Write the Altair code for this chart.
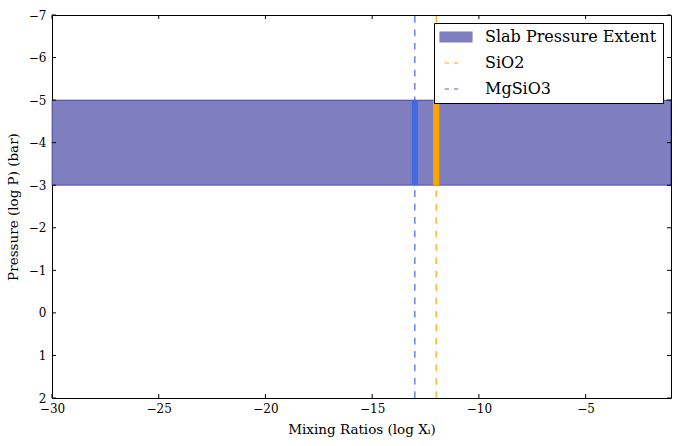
import altair as alt
import pandas as pd

# ---- data ----
x_domain = [-30, -1]
y_domain = [-7, 2]
x_ticks = [-30, -25, -20, -15, -10, -5]
y_ticks = [-7, -6, -5, -4, -3, -2, -1, 0, 1, 2]
slab_label = "Slab Pressure Extent"
slab_top = -5
slab_bottom = -3
species = ["SiO2", "MgSiO3"]
species_log_x = [-12, -13]
legend_names = [slab_label] + species
legend_colors = ["#7f7fbf", "#FFA500", "#4169E1"]
slab_edge_color = "#40409f"

W, H = 619, 383
FONT = "DejaVu Serif"

band_df = pd.DataFrame({
    "name": [slab_label],
    "x": [x_domain[0]], "x2": [x_domain[1]],
    "y": [slab_top], "y2": [slab_bottom],
})
lines_df = pd.DataFrame({
    "name": species,
    "logx": species_log_x,
    "ylo": [y_domain[1]] * len(species),
    "yhi": [y_domain[0]] * len(species),
    "stop": [slab_top] * len(species),
    "sbot": [slab_bottom] * len(species),
})
xt_df = pd.DataFrame({"v": x_ticks})
yt_df = pd.DataFrame({"v": y_ticks})

xscale = alt.Scale(domain=x_domain, nice=False, zero=False)
yscale = alt.Scale(domain=y_domain, nice=False, zero=False, reverse=True)
cscale = alt.Scale(domain=legend_names, range=legend_colors)

is_slab = f"datum.value === '{slab_label}'"
stroke_expr = (f"{is_slab} ? '{slab_edge_color}' : "
               f"(datum.value === '{species[0]}' ? '{legend_colors[1]}' : '{legend_colors[2]}')")
shape_expr = f"{is_slab} ? 'M-3.2,-1H3.2V1H-3.2Z' : 'M-2.25,0H-1.4M-0.4,0H0.48'"

legend = alt.Legend(
    title=None,
    orient="none",
    legendX=382,
    legendY=8,
    fillColor="white",
    strokeColor="black",
    cornerRadius=0,
    padding=6,
    rowPadding=10,
    labelFont=FONT,
    labelFontSize=16,
    labelColor="black",
    labelLimit=0,
    symbolSize=100,
    symbolOffset=8,
    labelOffset=21,
    symbolType={"expr": shape_expr},
    symbolStrokeColor={"expr": stroke_expr},
    symbolStrokeWidth=1.2,
    symbolOpacity=1,
)

xaxis = alt.Axis(values=x_ticks, tickSize=0, domain=False, grid=False,
                 labelFont=FONT, labelFontSize=12, labelColor="black",
                 labelPadding=5, labelFlush=False,
                 titleFont=FONT, titleFontSize=13.5, titleFontWeight="normal",
                 titleColor="black", titlePadding=8)
yaxis = alt.Axis(values=y_ticks, tickSize=0, domain=False, grid=False,
                 labelFont=FONT, labelFontSize=12, labelColor="black",
                 labelPadding=6, labelFlush=False,
                 titleFont=FONT, titleFontSize=13.5, titleFontWeight="normal",
                 titleColor="black", titlePadding=8)

band = alt.Chart(band_df).mark_rect().encode(
    x=alt.X("x:Q", scale=xscale, axis=xaxis, title="Mixing Ratios (log Xᵢ)"),
    x2="x2:Q",
    y=alt.Y("y:Q", scale=yscale, axis=yaxis, title="Pressure (log P) (bar)"),
    y2="y2:Q",
    color=alt.Color("name:N", scale=cscale, legend=legend),
)

band_edge = alt.Chart(band_df).mark_rect(
    fillOpacity=0, stroke="#000080", strokeOpacity=0.5, strokeWidth=1
).encode(
    x=alt.X("x:Q", scale=xscale), x2="x2:Q",
    y=alt.Y("y:Q", scale=yscale), y2="y2:Q",
)

dashed = alt.Chart(lines_df).mark_rule(strokeWidth=1.2, strokeDash=[6.7, 6.7]).encode(
    x=alt.X("logx:Q", scale=xscale),
    y=alt.Y("ylo:Q", scale=yscale),
    y2="yhi:Q",
    color=alt.Color("name:N", scale=cscale, legend=None),
)

thick = alt.Chart(lines_df).mark_rule(strokeWidth=6).encode(
    x=alt.X("logx:Q", scale=xscale),
    y=alt.Y("stop:Q", scale=yscale),
    y2="sbot:Q",
    color=alt.Color("name:N", scale=cscale, legend=None),
)

TL = 4
xt_bot = alt.Chart(xt_df).mark_rule(color="black", strokeWidth=1).encode(
    x=alt.X("v:Q", scale=xscale), y=alt.value(H), y2=alt.value(H - TL))
xt_top = alt.Chart(xt_df).mark_rule(color="black", strokeWidth=1).encode(
    x=alt.X("v:Q", scale=xscale), y=alt.value(0), y2=alt.value(TL))
yt_left = alt.Chart(yt_df).mark_rule(color="black", strokeWidth=1).encode(
    y=alt.Y("v:Q", scale=yscale), x=alt.value(0), x2=alt.value(TL))
yt_right = alt.Chart(yt_df).mark_rule(color="black", strokeWidth=1).encode(
    y=alt.Y("v:Q", scale=yscale), x=alt.value(W), x2=alt.value(W - TL))

chart = alt.layer(band, band_edge, dashed, thick,
                  xt_bot, xt_top, yt_left, yt_right).properties(
    width=W, height=H,
    autosize=alt.AutoSizeParams(type="none"),
    padding={"left": 52, "top": 15, "right": 7, "bottom": 48},
    background="white",
).configure_view(stroke="black", strokeWidth=1)

chart.save("out.html", embed_options={"renderer": "svg", "actions": False})
